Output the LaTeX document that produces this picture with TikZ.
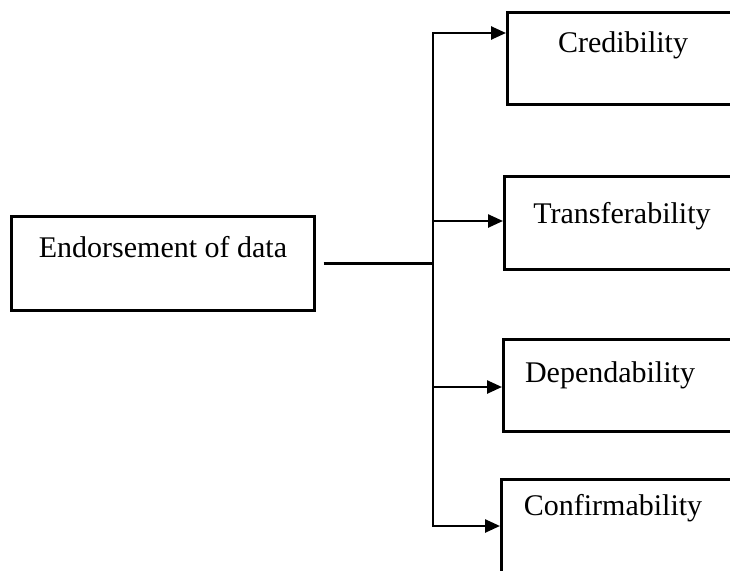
\documentclass[tikz,border=0pt]{standalone}
\usepackage{fontspec}
\setmainfont{Liberation Serif}
\usetikzlibrary{positioning}
\usetikzlibrary{arrows.meta}
\tikzset{box/.style = {draw, anchor=north west, inner sep=0}}
\tikzset{lbl/.style = {anchor=base, inner sep=0,
                       font=\fontsize{30}{36}\selectfont}}
\tikzset{arr/.style = {-{Triangle[length=15pt,width=13pt]}}}

\begin{document}
\begin{tikzpicture}[x=1pt,y=-1pt,line width=2.5pt]
      \useasboundingbox (0,0) rectangle (730,570);
      \clip (0,0) rectangle (730,570);
      \node[box, minimum width=303, minimum height=94]
        (endo) at (10,215) {};
      \node[box, minimum width=260, minimum height=92]
        (cred) at (506,11) {};
      \node[box, minimum width=260, minimum height=93]
        (trans) at (503,175) {};
      \node[box, minimum width=260, minimum height=92]
        (dep) at (502,338) {};
      \node[box, minimum width=260, minimum height=120]
        (conf) at (500,478) {};
      \node[lbl] (endotxt) at (163,257) {Endorsement of data};
      \node[lbl] (credtxt) at (623,52) {Credibility};
      \node[lbl] (transtxt) at (622,223) {Transferability};
      \node[lbl] (deptxt) at (610,382) {Dependability};
      \node[lbl] (conftxt) at (613,515) {Confirmability};
      \coordinate (hub) at (433,262);
      \coordinate (top) at (433,33);
      \coordinate (b2) at (433,221);
      \coordinate (b3) at (433,387);
      \coordinate (bot) at (433,526);
      \draw[shorten <=8pt] (endo.east) -- (endo.east -| hub);
      \draw[arr] (hub) |- (top -| cred.west);
      \draw[arr] (hub) |- (bot -| conf.west);
      \draw[arr] (b2) -- (b2 -| trans.west);
      \draw[arr] (b3) -- (b3 -| dep.west);
    \end{tikzpicture}
\end{document}
